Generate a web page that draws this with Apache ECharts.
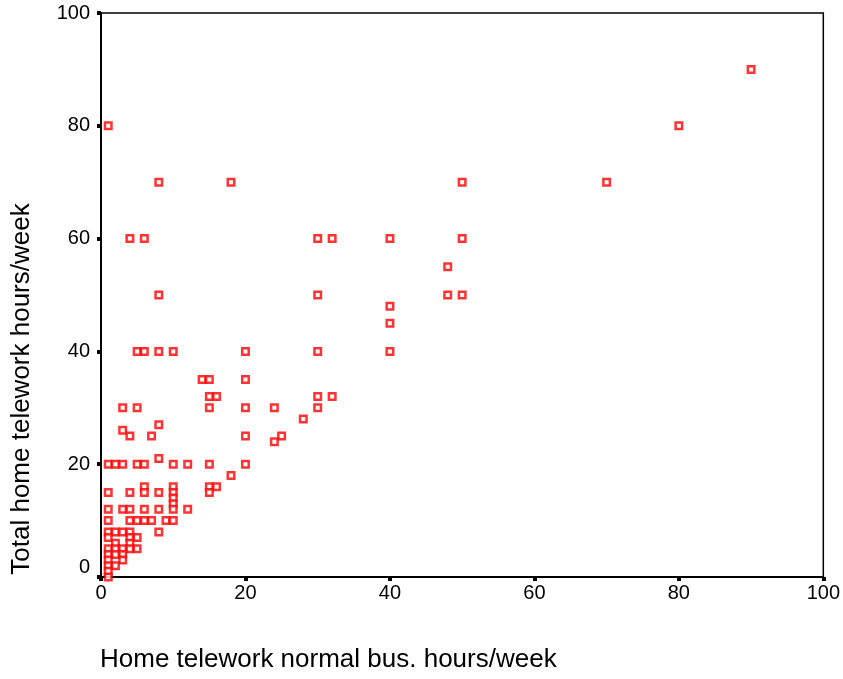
<!DOCTYPE html>
<html>
<head>
<meta charset="utf-8">
<script src="https://cdn.jsdelivr.net/npm/echarts@6/dist/echarts.min.js"></script>
<style>
  html, body { margin: 0; padding: 0; background: #fff; }
  #chart { width: 843px; height: 679px; }
</style>
</head>
<body>
<div id="chart"></div>
<script>
// Home telework normal business hours (x) vs total home telework hours (y), per respondent
const normalHours = [
  1, 8, 18, 50, 70, 80, 90,
  4, 6, 30, 32, 40, 50,
  48,
  8, 30, 48, 50,
  40, 40,
  5, 6, 8, 10, 20, 30, 40,
  14, 15, 20,
  15, 16, 30, 32,
  3, 5, 15, 20, 24, 30,
  28, 8, 3,
  4, 7, 20, 25,
  24,
  1, 2, 3, 5, 6, 10, 12, 15, 20, 8,
  18,
  6, 10, 15, 16,
  1, 4, 6, 8, 10, 15,
  10, 10,
  1, 3, 4, 6, 8, 10, 12,
  1, 4, 5, 6, 7, 9, 10,
  1, 2, 3, 4, 8,
  1, 4, 5,
  2, 4,
  1, 2, 3, 4, 5,
  1, 2, 3,
  1, 3,
  1, 2,
  1, 1
];
const totalHours = [
  80, 70, 70, 70, 70, 80, 90,
  60, 60, 60, 60, 60, 60,
  55,
  50, 50, 50, 50,
  48, 45,
  40, 40, 40, 40, 40, 40, 40,
  35, 35, 35,
  32, 32, 32, 32,
  30, 30, 30, 30, 30, 30,
  28, 27, 26,
  25, 25, 25, 25,
  24,
  20, 20, 20, 20, 20, 20, 20, 20, 20, 21,
  18,
  16, 16, 16, 16,
  15, 15, 15, 15, 15, 15,
  14, 13,
  12, 12, 12, 12, 12, 12, 12,
  10, 10, 10, 10, 10, 10, 10,
  8, 8, 8, 8, 8,
  7, 7, 7,
  6, 6,
  5, 5, 5, 5, 5,
  4, 4, 4,
  3, 3,
  2, 2,
  1, 0
];
const tickValues = [0, 20, 40, 60, 80, 100];

const points = normalHours.map((x, i) => [x, totalHours[i]]);

const FONT = '"Liberation Sans", Arial, sans-serif';
const chart = echarts.init(document.getElementById('chart'));

const axisCommon = {
  type: 'value',
  min: tickValues[0],
  max: tickValues[tickValues.length - 1],
  interval: tickValues[1] - tickValues[0],
  splitLine: { show: false },
  axisLine: { show: true, onZero: false, lineStyle: { color: '#000', width: 2 } },
  axisTick: { show: true, inside: false, length: 4, lineStyle: { color: '#000', width: 4 } }
};

chart.setOption({
  animation: false,
  backgroundColor: '#fff',
  grid: {
    left: 101, right: 19, top: 13, bottom: 102,
    show: true, borderColor: '#000', borderWidth: 1.5, backgroundColor: 'transparent'
  },
  xAxis: Object.assign({}, axisCommon, {
    axisLabel: { color: '#000', fontFamily: FONT, fontSize: 20, margin: 6 }
  }),
  yAxis: Object.assign({}, axisCommon, {
    axisLabel: {
      color: '#000', fontFamily: FONT, fontSize: 20, margin: 11,
      formatter: v => (v === 0 ? '{z|0}' : String(v)),
      rich: { z: { fontFamily: FONT, fontSize: 20, color: '#000', padding: [0, 0, 20, 0] } }
    }
  }),
  graphic: [
    {
      type: 'text', left: 100, top: 647,
      style: { text: 'Home telework normal bus. hours/week', fontFamily: FONT, fontSize: 26, fill: '#000' }
    },
    {
      type: 'text', x: 22, y: 389, rotation: Math.PI / 2,
      style: {
        text: 'Total home telework hours/week', fontFamily: FONT, fontSize: 26, fill: '#000',
        align: 'center', verticalAlign: 'middle'
      }
    }
  ],
  series: [{
    type: 'scatter',
    data: points,
    symbol: 'rect',
    symbolSize: 6.5,
    itemStyle: { color: '#fff', borderColor: '#ff0000', borderWidth: 2.5 }
  }]
});
</script>
</body>
</html>
